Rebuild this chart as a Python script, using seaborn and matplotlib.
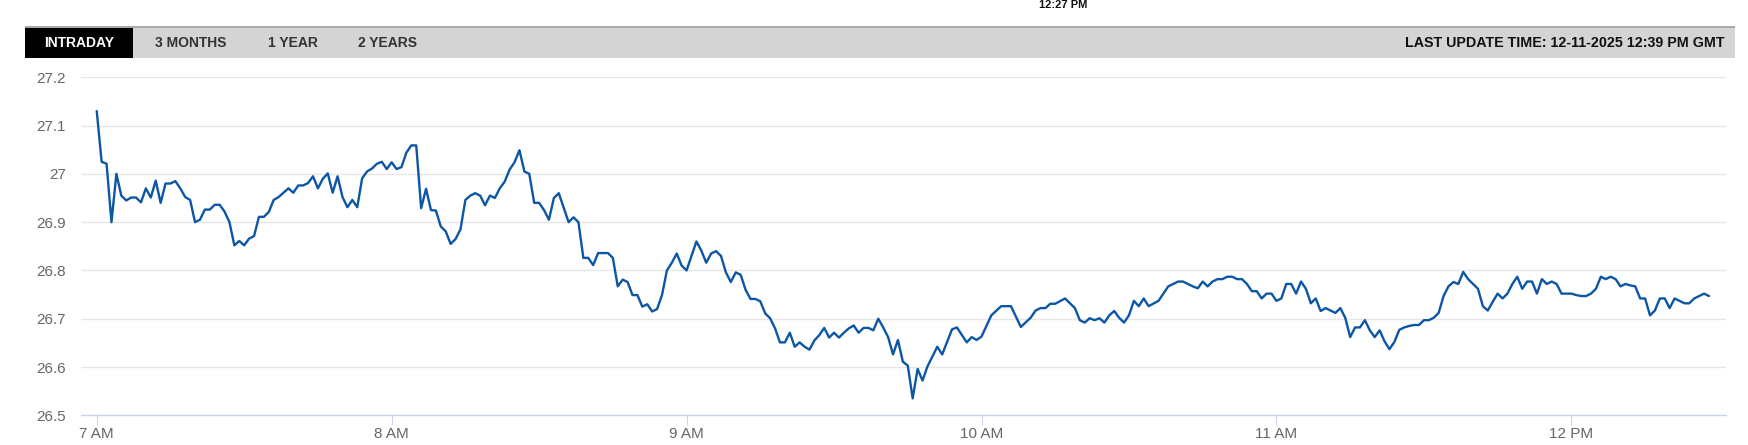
import matplotlib
matplotlib.use("Agg")
import matplotlib.pyplot as plt
from matplotlib.patches import Rectangle
import seaborn as sns
import pandas as pd

# minutes after 7:00 and price
minutes = [0, 1, 2, 3, 4, 5, 6, 7, 8, 9, 10, 11, 12, 13, 14, 15, 16, 17, 18, 19,
           20, 21, 22, 23, 24, 25, 26, 27, 28, 29, 30, 31, 32, 33, 34, 35, 36, 37, 38, 39,
           40, 41, 42, 43, 44, 45, 46, 47, 48, 49, 50, 51, 52, 53, 54, 55, 56, 57, 58, 59,
           60, 61, 62, 63, 64, 65, 66, 67, 68, 69, 70, 71, 72, 73, 74, 75, 76, 77, 78, 79,
           80, 81, 82, 83, 84, 85, 86, 87, 88, 89, 90, 91, 92, 93, 94, 95, 96, 97, 98, 99,
           100, 101, 102, 103, 104, 105, 106, 107, 108, 109, 110, 111, 112, 113, 114, 115, 116, 117, 118, 119,
           120, 121, 122, 123, 124, 125, 126, 127, 128, 129, 130, 131, 132, 133, 134, 135, 136, 137, 138, 139,
           140, 141, 142, 143, 144, 145, 146, 147, 148, 149, 150, 151, 152, 153, 154, 155, 156, 157, 158, 159,
           160, 161, 162, 163, 164, 165, 166, 167, 168, 169, 171, 172, 174, 175, 177, 178, 179, 180,
           182, 184, 186, 188, 190, 191, 192, 193, 194, 195, 197, 199,
           200, 201, 202, 203, 204, 205, 206, 207, 208, 209, 210, 211, 212, 213, 214, 216, 218, 219,
           220, 221, 222, 223, 224, 225, 226, 227, 228, 229, 230, 231, 232, 233, 234, 235, 236, 237, 238, 239,
           240, 241, 242, 243, 244, 245, 246, 247, 248, 249, 250, 251, 252, 253, 254, 255, 256, 257, 258, 259,
           260, 261, 262, 263, 264, 265, 266, 267, 268, 269, 270, 271, 272, 273, 274, 275, 276, 277, 278, 279,
           280, 281, 282, 283, 284, 285, 286, 287, 288, 289, 290, 291, 292, 293, 294, 295, 296, 297, 298, 299,
           300, 301, 302, 303, 304, 305, 306, 307, 308, 309, 310, 311, 312, 313, 314, 315, 316, 317, 318, 319,
           320, 321, 322, 323, 324, 325, 326, 327, 328]

prices = [27.13, 27.025, 27.021, 26.90, 27.00, 26.955, 26.945, 26.951, 26.951, 26.941,
          26.97, 26.951, 26.986, 26.94, 26.98, 26.98, 26.985, 26.97, 26.952, 26.946,
          26.90, 26.905, 26.926, 26.926, 26.936, 26.936, 26.922, 26.90, 26.852, 26.861,
          26.852, 26.866, 26.871, 26.911, 26.911, 26.921, 26.946, 26.952, 26.961, 26.970,
          26.961, 26.976, 26.976, 26.981, 26.995, 26.970, 26.990, 27.001, 26.961, 26.995,
          26.952, 26.931, 26.946, 26.931, 26.991, 27.005, 27.011, 27.021, 27.025, 27.010,
          27.024, 27.010, 27.014, 27.044, 27.059, 27.059, 26.929, 26.969, 26.925, 26.924,
          26.891, 26.881, 26.855, 26.865, 26.885, 26.946, 26.955, 26.960, 26.955, 26.935,
          26.955, 26.950, 26.970, 26.984, 27.009, 27.024, 27.049, 27.005, 27.000, 26.940,
          26.940, 26.925, 26.905, 26.950, 26.960, 26.930, 26.900, 26.910, 26.900, 26.826,
          26.826, 26.811, 26.836, 26.836, 26.836, 26.826, 26.767, 26.781, 26.776, 26.749,
          26.749, 26.725, 26.730, 26.715, 26.720, 26.749, 26.800, 26.816, 26.835, 26.810,
          26.800, 26.830, 26.860, 26.841, 26.816, 26.835, 26.840, 26.830, 26.796, 26.776,
          26.796, 26.791, 26.760, 26.741, 26.741, 26.736, 26.711, 26.701, 26.680, 26.651,
          26.651, 26.671, 26.642, 26.651, 26.642, 26.636, 26.655, 26.666, 26.681, 26.661,
          26.671, 26.661, 26.671, 26.680, 26.686, 26.671, 26.681, 26.681, 26.676, 26.700,
          26.682, 26.662, 26.626, 26.656, 26.611, 26.603, 26.535, 26.596, 26.572, 26.601,
          26.642, 26.626, 26.678, 26.682, 26.651, 26.662, 26.656, 26.663,
          26.707, 26.726, 26.726, 26.683, 26.702, 26.717, 26.722, 26.722, 26.731, 26.731,
          26.742, 26.722,
          26.697, 26.692, 26.701, 26.697, 26.701, 26.692, 26.707, 26.716, 26.702, 26.692,
          26.707, 26.737, 26.726, 26.742, 26.726, 26.737, 26.767, 26.772,
          26.777, 26.777, 26.772, 26.767, 26.763, 26.777, 26.767, 26.777, 26.782, 26.782,
          26.787, 26.787, 26.782, 26.782, 26.772, 26.757, 26.757, 26.742, 26.752, 26.752,
          26.737, 26.742, 26.772, 26.772, 26.752, 26.777, 26.762, 26.732, 26.742, 26.716,
          26.722, 26.717, 26.712, 26.722, 26.702, 26.662, 26.682, 26.682, 26.697, 26.676,
          26.662, 26.676, 26.653, 26.637, 26.652, 26.677, 26.682, 26.685, 26.687, 26.687,
          26.697, 26.697, 26.702, 26.712, 26.747, 26.767, 26.776, 26.772, 26.797, 26.782,
          26.772, 26.762, 26.726, 26.717, 26.735, 26.752, 26.742, 26.752, 26.772, 26.787,
          26.762, 26.777, 26.777, 26.752, 26.782, 26.772, 26.777, 26.772, 26.752, 26.752,
          26.752, 26.749, 26.747, 26.747, 26.752, 26.762, 26.787, 26.782, 26.787, 26.782,
          26.767, 26.772, 26.769, 26.767, 26.742, 26.742, 26.707, 26.717, 26.742, 26.742,
          26.722, 26.742, 26.737, 26.732, 26.732, 26.742, 26.747, 26.752, 26.747]

x_ticks = [0, 60, 120, 180, 240, 300]
x_labels = ["7 AM", "8 AM", "9 AM", "10 AM", "11 AM", "12 PM"]
y_ticks = [26.5, 26.6, 26.7, 26.8, 26.9, 27.0, 27.1, 27.2]
y_labels = ["26.5", "26.6", "26.7", "26.8", "26.9", "27", "27.1", "27.2"]

tabs = ["INTRADAY", "3 MONTHS", "1 YEAR", "2 YEARS"]
update_text = "LAST UPDATE TIME: 12-11-2025 12:39 PM GMT"
top_text = "12:27 PM"

sns.set_style("white")
plt.rcParams['font.family'] = ['Liberation Sans', 'DejaVu Sans']

W, H = 1748, 445
fig = plt.figure(figsize=(W / 100, H / 100), dpi=100)


def fx(px):
    return px / W


def fy(py):
    return 1 - py / H


# tab bar
fig.add_artist(Rectangle((fx(24.5), fy(58)), fx(1734.6 - 24.5), (58 - 26.8) / H,
                         transform=fig.transFigure, facecolor="#d4d4d4", edgecolor="none"))
fig.add_artist(Rectangle((fx(24.5), fy(28)), fx(1734.6 - 24.5), 1.5 / H,
                         transform=fig.transFigure, facecolor="#a9a9a9", edgecolor="none"))
fig.add_artist(Rectangle((fx(24.5), fy(58)), fx(132.7 - 24.5), (58 - 28) / H,
                         transform=fig.transFigure, facecolor="black", edgecolor="none"))
tab_x = [79, 191, 293, 388]
for i, t in enumerate(tabs):
    fig.text(fx(tab_x[i]), fy(43), t, ha="center", va="center", fontsize=10,
             fontweight="bold", color="white" if i == 0 else "#333333")
fig.text(fx(1724.6), fy(43), update_text, ha="right", va="center", fontsize=10.3,
         fontweight="bold", color="#111111")

# small time stamp at the very top (cut off in the source page)
fig.text(fx(1063), fy(0.5), top_text, ha="center", va="top", fontsize=8,
         fontweight="bold", color="#111111")

# chart
ax = fig.add_axes([fx(80.7), fy(415.3), fx(1725.7 - 80.7), (415.3 - 77.3) / H])
df = pd.DataFrame({"minute": minutes, "price": prices})
sns.lineplot(data=df, x="minute", y="price", ax=ax, color="#0c56a5", linewidth=1.7)

ax.set_xlim(-3.26, 331.4)
ax.set_ylim(26.5, 27.2)
ax.set_xticks(x_ticks)
ax.set_xticklabels(x_labels)
ax.set_yticks(y_ticks)
ax.set_yticklabels(y_labels)
ax.set_xlabel("")
ax.set_ylabel("")
ax.grid(axis="y", color="#e6e6e6", linewidth=1)
ax.grid(axis="x", visible=False)
for s in ["top", "right", "left"]:
    ax.spines[s].set_visible(False)
ax.spines["bottom"].set_color("#ccd6eb")
ax.spines["bottom"].set_linewidth(1)
ax.tick_params(axis="x", length=7.2, width=0.8, color="#ccd6eb", pad=1,
               labelsize=11, labelcolor="#666666", bottom=True)
ax.tick_params(axis="y", length=0, pad=10.5, labelsize=11, labelcolor="#666666")

fig.savefig("out.png", dpi=100)
